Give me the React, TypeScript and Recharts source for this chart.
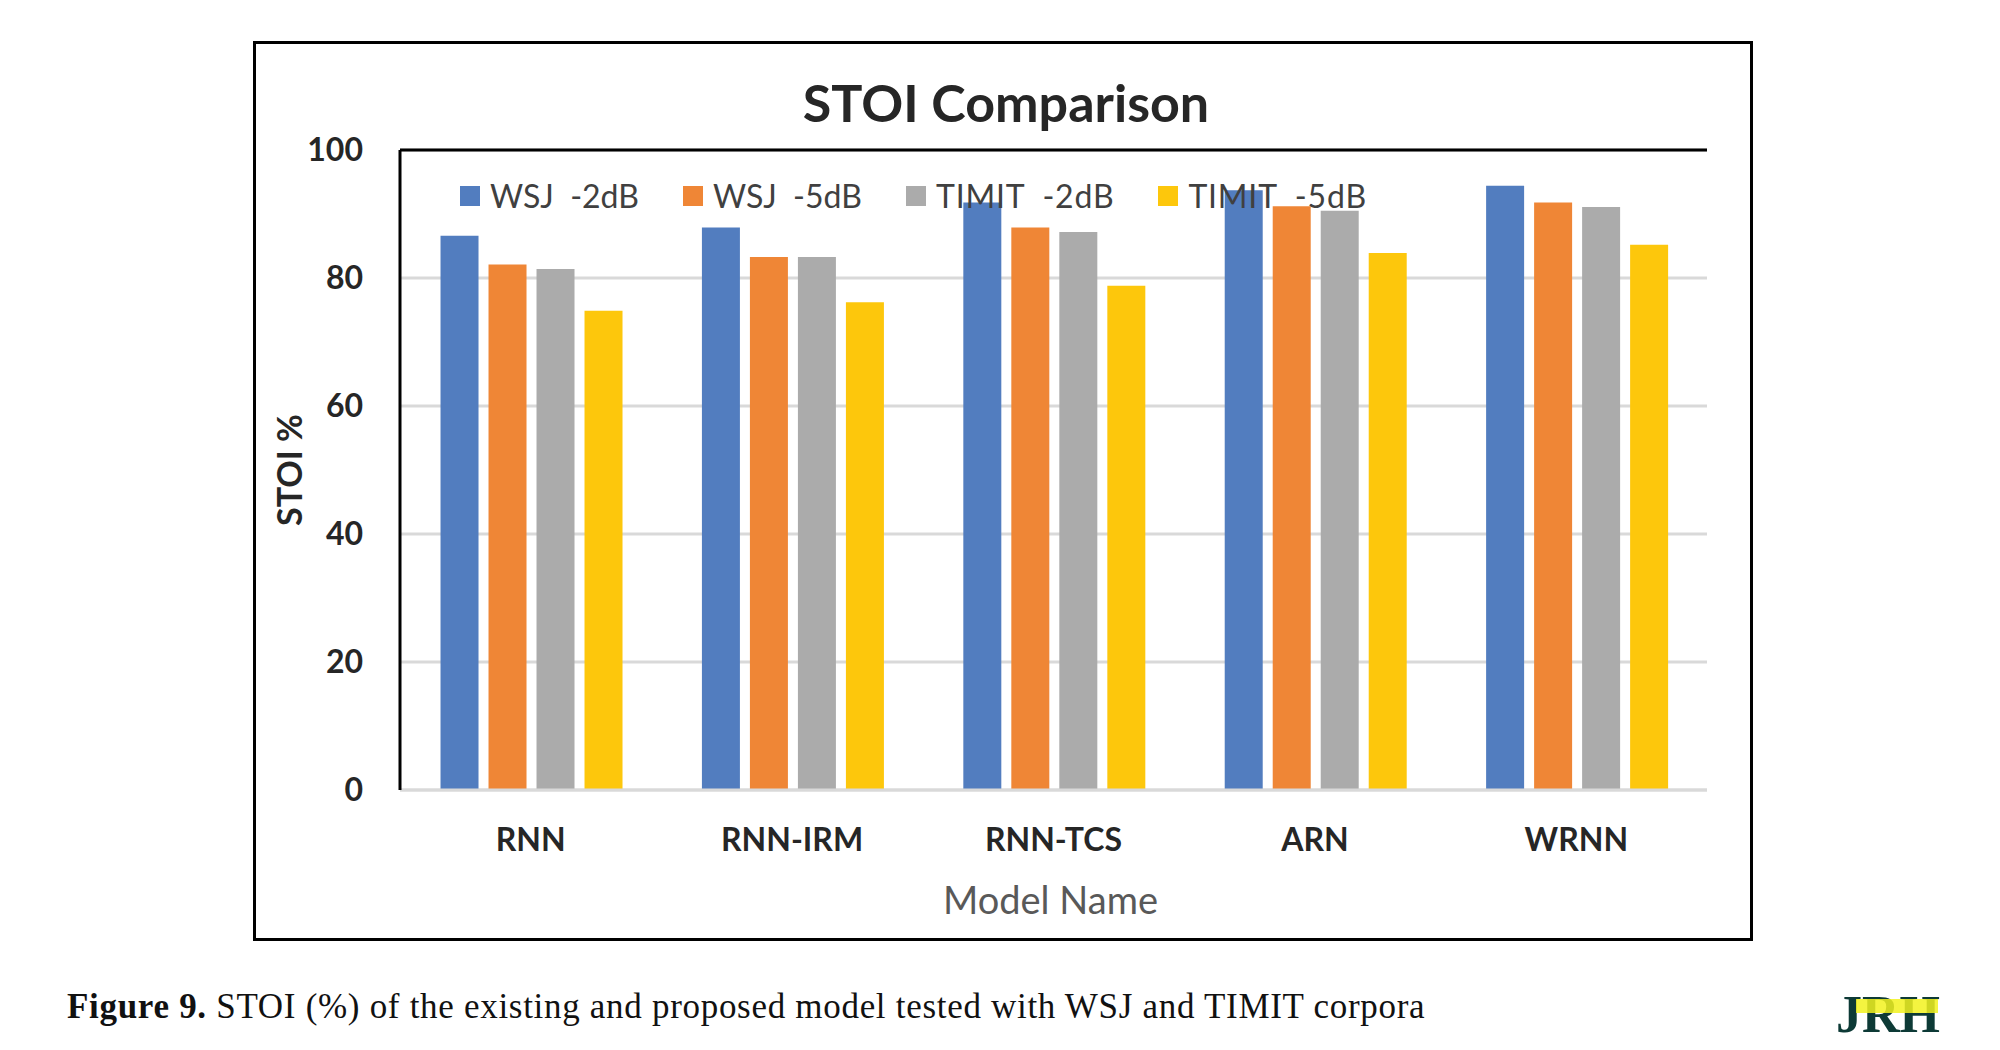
import React from "react";
import { Bar, BarChart, CartesianGrid, Legend, ReferenceLine, XAxis, YAxis } from "recharts";

const models = ["RNN", "RNN-IRM", "RNN-TCS", "ARN", "WRNN"];
const wsj2 = [86.6, 87.9, 91.8, 93.7, 94.4];
const wsj5 = [82.1, 83.3, 87.9, 91.2, 91.8];
const timit2 = [81.4, 83.3, 87.2, 90.5, 91.1];
const timit5 = [74.9, 76.2, 78.8, 83.9, 85.2];
const yTicks = [0, 20, 40, 60, 80, 100];

const series = [
  { key: "wsj2", label: "WSJ  -2dB", color: "#527dbf", values: wsj2 },
  { key: "wsj5", label: "WSJ  -5dB", color: "#ef8636", values: wsj5 },
  { key: "timit2", label: "TIMIT  -2dB", color: "#ababab", values: timit2 },
  { key: "timit5", label: "TIMIT  -5dB", color: "#fdc70c", values: timit5 }
];

const data = models.map((name, i) => {
  const row: Record<string, string | number> = { name };
  series.forEach((s) => {
    row[s.key] = s.values[i];
  });
  return row;
});

const font = "Lato, 'Open Sans', sans-serif";

function LegendContent() {
  return (
    <div style={{ display: "flex", alignItems: "center", fontFamily: font, fontSize: 32, lineHeight: "32px", color: "#404040" }}>
      {series.map((s) => (
        <div key={s.key} style={{ display: "flex", alignItems: "center", marginRight: 44 }}>
          <span style={{ width: 20, height: 20, background: s.color, display: "inline-block", marginRight: 10 }} />
          <span style={{ whiteSpace: "pre", letterSpacing: s.key.startsWith("timit") ? 0.8 : 0 }}>{s.label}</span>
        </div>
      ))}
    </div>
  );
}

function YTitle(props: any) {
  const { x, y, width, height } = props.viewBox;
  const cx = x + width - 112;
  const cy = y + height / 2;
  return (
    <text
      x={cx}
      y={cy}
      transform={`rotate(-90 ${cx} ${cy})`}
      textAnchor="middle"
      dominantBaseline="central"
      fontFamily={font}
      fontWeight={700}
      fontSize={34}
      fill="#262626"
    >
      STOI %
    </text>
  );
}

function XTitle(props: any) {
  const { x, y, width } = props.viewBox;
  return (
    <text x={x + width / 2 - 3} y={y + 124} textAnchor="middle" fontFamily={font} fontSize={38} fill="#595959">
      Model Name
    </text>
  );
}

export default function App() {
  return (
    <div style={{ position: "absolute", left: 0, top: 0, width: 2000, height: 1050, background: "#fff" }}>
      <div
        style={{
          position: "absolute",
          left: 253,
          top: 41,
          width: 1500,
          height: 900,
          border: "3px solid #000",
          boxSizing: "border-box"
        }}
      />
      <div
        style={{
          position: "absolute",
          left: 1006,
          top: 76,
          transform: "translateX(-50%)",
          whiteSpace: "nowrap",
          fontFamily: font,
          fontWeight: 700,
          fontSize: 52,
          lineHeight: "52px",
          color: "#262626"
        }}
      >
        STOI Comparison
      </div>
      <div style={{ position: "absolute", left: 0, top: 0 }}>
        <BarChart
          width={2000}
          height={1050}
          data={data}
          margin={{ top: 150, right: 293, bottom: 200, left: 0 }}
          barCategoryGap="15.5%"
          barGap={10}
        >
          <CartesianGrid vertical={false} stroke="#d9d9d9" strokeWidth={3} />
          <XAxis
            dataKey="name"
            height={60}
            interval={0}
            axisLine={{ stroke: "#d9d9d9", strokeWidth: 3 }}
            tickLine={false}
            tickSize={0}
            tickMargin={38}
            tick={{ fontFamily: font, fontWeight: 700, fontSize: 32, fill: "#262626" }}
            label={(p: any) => <XTitle {...p} />}
          />
          <YAxis
            width={400}
            domain={[0, 100]}
            ticks={yTicks}
            axisLine={{ stroke: "#000", strokeWidth: 3 }}
            tickLine={false}
            tickSize={0}
            tickMargin={37}
            tick={{ fontFamily: font, fontWeight: 700, fontSize: 32, fill: "#262626" }}
            label={(p: any) => <YTitle {...p} />}
          />
          <YAxis
            yAxisId="right"
            orientation="right"
            width={0}
            domain={[0, 100]}
            axisLine={{ stroke: "#000", strokeWidth: 3 }}
            tick={false}
            tickLine={false}
          />
          <ReferenceLine y={100} stroke="#000" strokeWidth={3} />
          <Legend
            verticalAlign="middle"
            layout="horizontal"
            content={() => <LegendContent />}
            wrapperStyle={{ top: 180, left: 460, width: "auto", height: 32 }}
          />
          {series.map((s) => (
            <Bar key={s.key} dataKey={s.key} name={s.label} fill={s.color} isAnimationActive={false} />
          ))}
        </BarChart>
      </div>
      <div
        style={{
          position: "absolute",
          left: 67,
          top: 989,
          whiteSpace: "nowrap",
          fontFamily: "'Liberation Serif', 'DejaVu Serif', serif",
          fontSize: 35,
          lineHeight: "35px",
          letterSpacing: 0.7,
          color: "#111"
        }}
      >
        <b>Figure 9.</b> STOI (%) of the existing and proposed model tested with WSJ and TIMIT corpora
      </div>
      <div
        style={{
          position: "absolute",
          left: 1836,
          top: 989,
          fontFamily: "'Liberation Serif', serif",
          fontWeight: 700,
          fontSize: 52,
          lineHeight: "52px",
          color: "#0d3a36"
        }}
      >
        JRH
      </div>
      <div style={{ position: "absolute", left: 1856, top: 999, width: 82, height: 14, background: "#f2f21e", opacity: 0.85 }} />
    </div>
  );
}
